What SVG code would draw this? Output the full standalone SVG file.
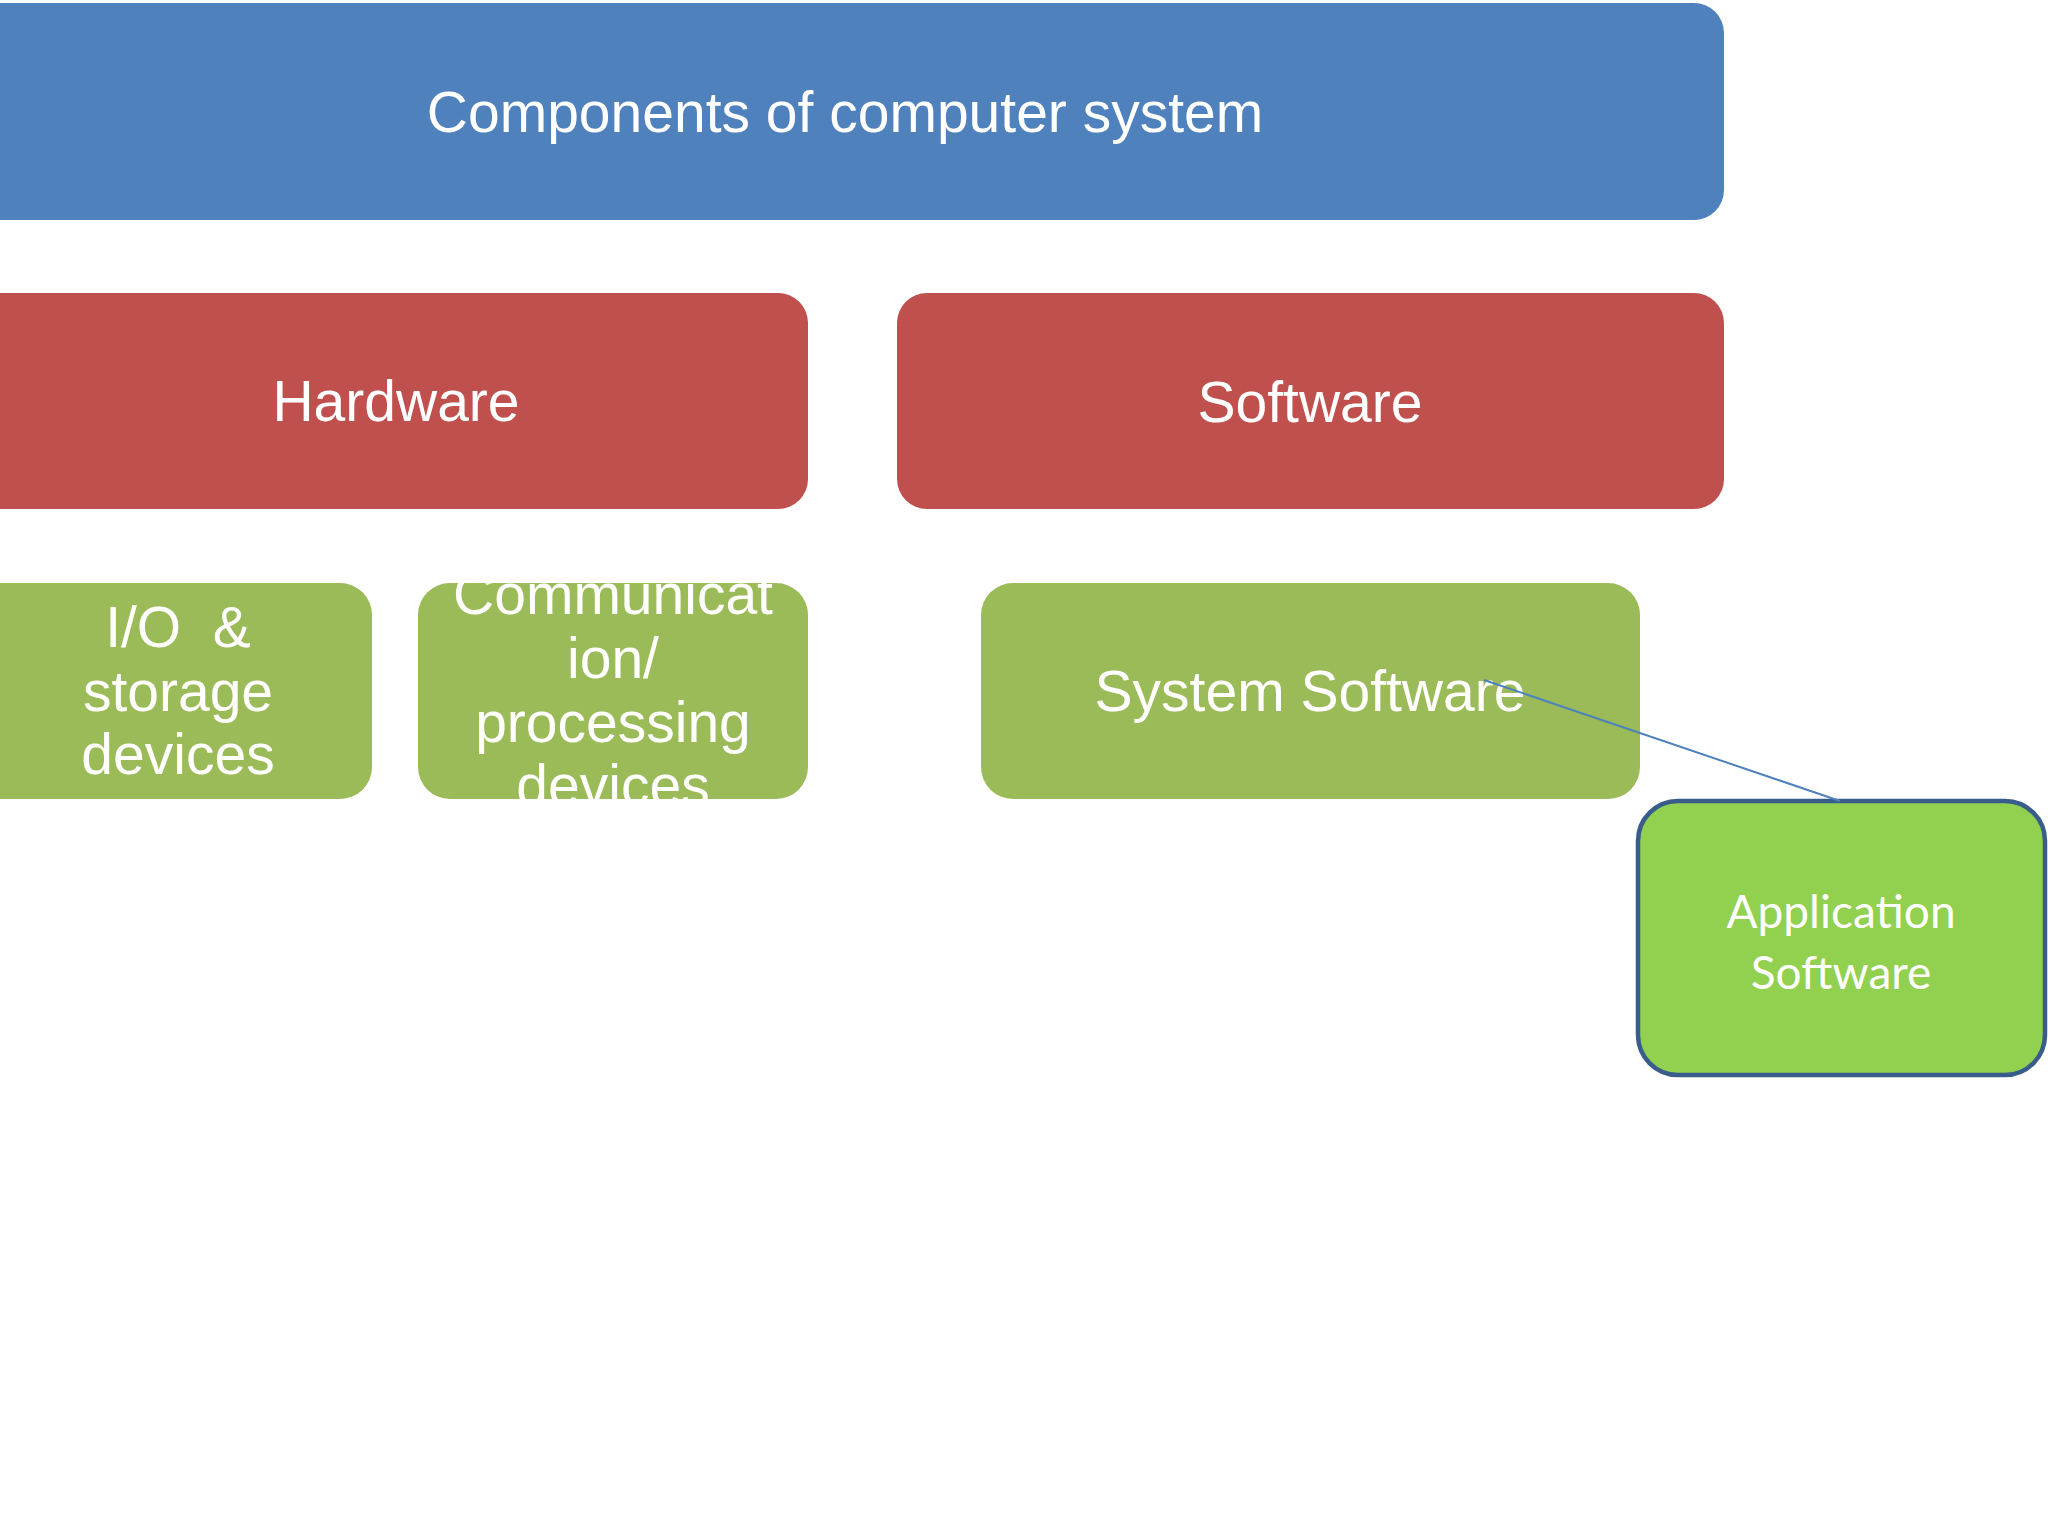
<svg xmlns="http://www.w3.org/2000/svg" width="2048" height="1536" viewBox="0 0 2048 1536">
<style>
.lbl{font-family:"Liberation Sans",Arial,sans-serif;font-size:57px;fill:#ffffff;text-anchor:middle}
.app{font-family:Lato,"Open Sans",sans-serif;font-size:46px;fill:#ffffff;text-anchor:middle}
.blue{fill:#4F81BD}
.red{fill:#C0504D}
.green{fill:#9BBB59}
</style>
<defs>
<clipPath id="clipIO"><rect x="-40" y="583" width="412" height="216" rx="32"/></clipPath>
<clipPath id="clipComm"><rect x="418" y="583" width="390" height="216" rx="32"/></clipPath>
</defs>
<rect width="2048" height="1536" fill="#ffffff"/>
<g id="node-components">
<rect class="blue" x="-40" y="3" width="1764" height="217" rx="30"/>
<text class="lbl" x="845" y="132">Components of computer system</text>
</g>
<g id="node-hardware">
<rect class="red" x="-40" y="293" width="848" height="216" rx="30"/>
<text class="lbl" x="396" y="421">Hardware</text>
</g>
<g id="node-software">
<rect class="red" x="897" y="293" width="827" height="216" rx="30"/>
<text class="lbl" x="1310" y="422">Software</text>
</g>
<g id="node-io">
<rect class="green" x="-40" y="583" width="412" height="216" rx="32"/>
<g clip-path="url(#clipIO)">
<text class="lbl" x="178" y="647" xml:space="preserve">I/O  &amp;</text>
<text class="lbl" x="178" y="711">storage</text>
<text class="lbl" x="178" y="774">devices</text>
</g>
</g>
<g id="node-comm">
<rect class="green" x="418" y="583" width="390" height="216" rx="32"/>
<g clip-path="url(#clipComm)">
<text class="lbl" x="613" y="614">Communicat</text>
<text class="lbl" x="613" y="678">ion/</text>
<text class="lbl" x="613" y="742">processing</text>
<text class="lbl" x="613" y="805">devices</text>
</g>
</g>
<g id="node-system">
<rect class="green" x="981" y="583" width="659" height="216" rx="32"/>
<text class="lbl" x="1310" y="711">System Software</text>
</g>
<g id="node-application">
<rect x="1638" y="801" width="407" height="274" rx="40" fill="#92D050" stroke="#385D8A" stroke-width="4.5"/>
<text class="app" x="1841" y="928">Application</text>
<text class="app" x="1841" y="989">Software</text>
</g>
<g id="connectors">
<line x1="1484" y1="680" x2="1840" y2="801" stroke="#4F81BD" stroke-width="2"/>
</g>
</svg>
